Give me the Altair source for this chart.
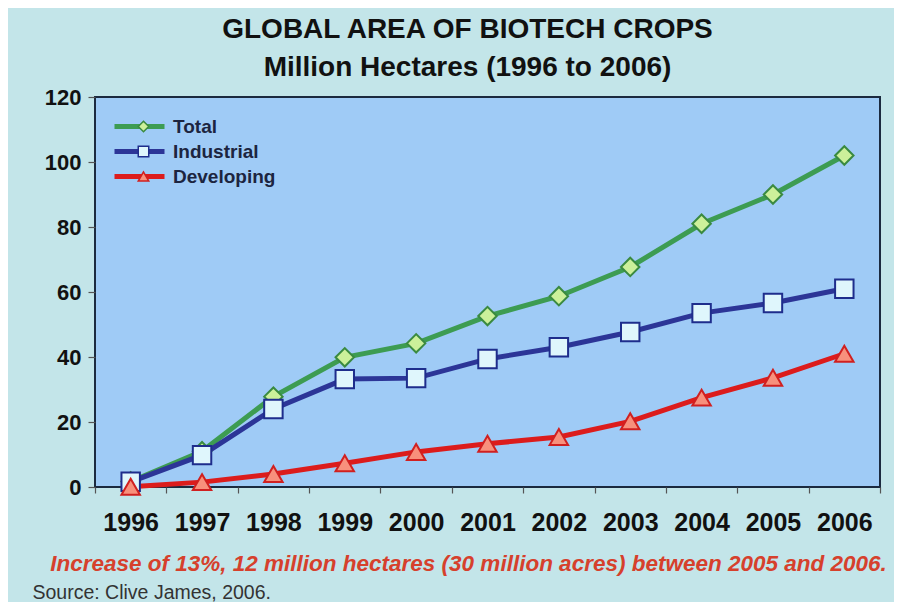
import altair as alt
import pandas as pd

years = [str(y) for y in range(1996, 2007)]
series = ["Total", "Industrial", "Developing"]
total = [1.7, 11.0, 27.8, 39.9, 44.2, 52.6, 58.7, 67.7, 81.0, 90.0, 102.0]
industrial = [1.6, 9.8, 24.0, 33.2, 33.5, 39.4, 43.0, 47.7, 53.5, 56.6, 61.0]
developing = [0.1, 1.5, 4.0, 7.3, 10.8, 13.3, 15.4, 20.2, 27.5, 33.6, 41.0]
y_ticks = [0, 20, 40, 60, 80, 100, 120]

line_colors = ["#3d9c52", "#2c3597", "#dc1c1c"]
fill_colors = ["#ccf09a", "#dff6fc", "#f8907c"]
stroke_colors = ["#3a8a40", "#1e2d8c", "#d02020"]
shapes = ["diamond", "square", "triangle-up"]

rows = []
for name, vals in zip(series, [total, industrial, developing]):
    for yr, v in zip(years, vals):
        rows.append({"year": yr, "value": v, "series": name, "series2": name})
df = pd.DataFrame(rows)

F = "Arial, Liberation Sans, sans-serif"

base = alt.Chart(df).encode(
    x=alt.X(
        "year:O",
        scale=alt.Scale(paddingInner=0, paddingOuter=0),
        axis=alt.Axis(
            labelAngle=0, labelFont=F, labelFontSize=25, labelFontWeight="bold",
            labelColor="#111111", labelPadding=17, tickBand="extent", ticks=True,
            tickSize=6, tickColor="#555555", tickWidth=1.2, domain=False, grid=False,
            title="Increase of 13%, 12 million hectares (30 million acres) between 2005 and 2006.",
            titleFont=F, titleFontSize=22.5, titleFontWeight="bold", titleFontStyle="italic",
            titleColor="#d6402c", titleX=373, titleY=76, titleAlign="center",
            titleBaseline="middle", titleAnchor="middle",
        ),
    ),
    y=alt.Y(
        "value:Q",
        scale=alt.Scale(domain=[0, 120], nice=False),
        axis=alt.Axis(
            values=y_ticks, labelFont=F, labelFontSize=22, labelFontWeight="bold",
            labelColor="#111111", labelPadding=7, tickSize=7, tickColor="#555555",
            tickWidth=1.2, domain=False, grid=False,
            title="Source: Clive James, 2006.", titleAngle=0, titleAlign="left",
            titleBaseline="middle", titleX=-63, titleY=495, titleFont=F,
            titleFontSize=19.5, titleFontWeight="normal", titleColor="#333333",
        ),
    ),
)

lines = base.mark_line(strokeWidth=5).encode(
    color=alt.Color(
        "series:N",
        sort=series,
        scale=alt.Scale(range=line_colors),
        legend=alt.Legend(
            title=None, orient="none", legendX=17, legendY=17, symbolType="stroke",
            symbolSize=2500, symbolStrokeWidth=5, labelFont=F, labelFontSize=19,
            labelFontWeight="bold", labelColor="#1c2540", clipHeight=25,
            labelOffset=6, rowPadding=0, padding=0, zindex=1,
        ),
    )
)

pt_legend = alt.Legend(
    title=None, orient="none", legendX=17, legendY=17, symbolSize=110,
    symbolStrokeWidth=1.5, symbolOffset=22, labelExpr="''", labelFont=F,
    labelFontSize=19, labelFontWeight="bold", clipHeight=25, rowPadding=0,
    padding=0, zindex=2,
)

points = base.mark_point(filled=True, opacity=1, size=340, strokeWidth=2).encode(
    shape=alt.Shape("series2:N", scale=alt.Scale(domain=series, range=shapes), legend=pt_legend),
    fill=alt.Fill("series2:N", scale=alt.Scale(domain=series, range=fill_colors), legend=pt_legend),
    stroke=alt.Stroke("series2:N", scale=alt.Scale(domain=series, range=stroke_colors), legend=pt_legend),
)

chart = (
    alt.layer(lines, points)
    .properties(
        width=785,
        height=390,
        background="#c3e5e9",
        autosize=alt.AutoSizeParams(type="none"),
        padding={"left": 87, "top": 89, "right": 14, "bottom": 115},
        title=alt.TitleParams(
            text="GLOBAL AREA OF BIOTECH CROPS",
            subtitle="Million Hectares (1996 to 2006)",
            anchor="middle", frame="group", dx=-20, offset=4,
            font=F, fontSize=28, fontWeight="bold", color="#111111",
            subtitleFont=F, subtitleFontSize=28, subtitleFontWeight="bold",
            subtitleColor="#111111", subtitlePadding=10,
        ),
    )
    .configure_view(fill="#9fcbf6", stroke="#1b2a3f", strokeWidth=2)
)

chart.save("out.html", embed_options={"renderer": "svg", "actions": False})
